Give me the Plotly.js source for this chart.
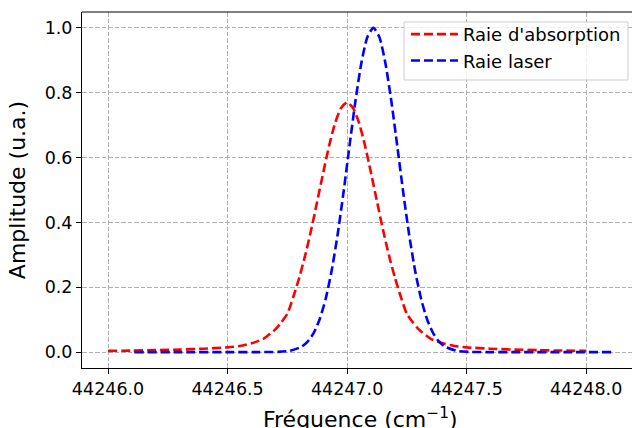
<!DOCTYPE html>
<html>
<head>
<meta charset="utf-8">
<script src="https://cdn.plot.ly/plotly-3.0.1.min.js"></script>
<style>
html, body { margin: 0; padding: 0; background: #fff; overflow: hidden; }
#chart { width: 632px; height: 428px; }
</style>
</head>
<body>
<div id="chart"></div>
<script>
// Raie d'absorption (red)
const absX = [44246.0, 44246.1, 44246.2, 44246.3, 44246.4, 44246.5, 44246.55, 44246.6, 44246.65, 44246.7,
  44246.725, 44246.75, 44246.775, 44246.8, 44246.825, 44246.85, 44246.875, 44246.9, 44246.925, 44246.95, 44246.975,
  44247.0,
  44247.025, 44247.05, 44247.075, 44247.1, 44247.125, 44247.15, 44247.175, 44247.2, 44247.225, 44247.25, 44247.275,
  44247.3, 44247.35, 44247.4, 44247.45, 44247.5, 44247.6, 44247.7, 44247.8, 44247.9, 44248.0];
const absY = [0.0039, 0.0048, 0.0060, 0.0078, 0.0105, 0.0147, 0.0188, 0.027, 0.041, 0.070,
  0.092, 0.118, 0.170, 0.230, 0.299, 0.378, 0.465, 0.553, 0.637, 0.707, 0.753,
  0.770,
  0.753, 0.707, 0.637, 0.553, 0.465, 0.378, 0.299, 0.230, 0.170, 0.118, 0.092,
  0.070, 0.041, 0.027, 0.0188, 0.0147, 0.0105, 0.0078, 0.0060, 0.0048, 0.0039];

// Raie laser (blue)
const laserX = [44246.11, 44246.31, 44246.51, 44246.61, 44246.71, 44246.76, 44246.81, 44246.835, 44246.86, 44246.885,
  44246.91, 44246.935, 44246.96, 44246.985, 44247.01, 44247.035, 44247.06, 44247.085,
  44247.11,
  44247.135, 44247.16, 44247.185, 44247.21, 44247.235, 44247.26, 44247.285, 44247.31, 44247.335,
  44247.36, 44247.385, 44247.41, 44247.46, 44247.51, 44247.61, 44247.71, 44247.91, 44248.11];
const laserY = [0.0, 0.0, 0.0, 0.0, 0.0007, 0.0039, 0.0169, 0.0324, 0.0588, 0.1007,
  0.163, 0.2494, 0.3604, 0.4923, 0.6354, 0.7748, 0.8928, 0.972,
  1.0,
  0.972, 0.8928, 0.7748, 0.6354, 0.4923, 0.3604, 0.2494, 0.163, 0.1007,
  0.0588, 0.0324, 0.0169, 0.0039, 0.0007, 0.0, 0.0, 0.0, 0.0];

const seriesNames = ["Raie d'absorption", "Raie laser"];
const xTicks = [44246.0, 44246.5, 44247.0, 44247.5, 44248.0];
const yTicks = [0.0, 0.2, 0.4, 0.6, 0.8, 1.0];
const xTitle = "Fréquence (cm<sup>−1</sup>)";
const yTitle = "Amplitude (u.a.)";

const font = "DejaVu Sans, sans-serif";
const dashPat = "9px,4px";

const traces = [
  { x: absX, y: absY, name: seriesNames[0], mode: "lines",
    line: { color: "#ff0000", width: 2.6, dash: dashPat, shape: "spline", smoothing: 0.6 } },
  { x: laserX, y: laserY, name: seriesNames[1], mode: "lines",
    line: { color: "#0000ff", width: 2.6, dash: dashPat, shape: "spline", smoothing: 0.6 } }
];

const gridStyle = { showgrid: true, gridcolor: "#b0b0b0", gridwidth: 1, griddash: "4.5px,2px" };

const layout = {
  width: 632, height: 428,
  margin: { l: 82, r: 0, t: 12, b: 60, pad: 0 },
  paper_bgcolor: "#ffffff", plot_bgcolor: "#ffffff",
  font: { family: font, color: "#000000", size: 17.5 },
  showlegend: true,
  legend: {
    x: 0.589, y: 0.989, xanchor: "left", yanchor: "top",
    bgcolor: "rgba(0,0,0,0)", borderwidth: 0,
    itemwidth: 47,
    font: { family: font, size: 18, color: "#000000" },
    tracegroupgap: 0
  },
  xaxis: Object.assign({
    range: [44245.891, 44248.192],
    tickmode: "array", tickvals: xTicks, ticktext: xTicks.map(v => v.toFixed(1)),
    ticks: "outside", ticklen: 5, tickwidth: 1, tickcolor: "#000000",
    showline: true, linecolor: "#000000", linewidth: 1, zeroline: false,
    tickfont: { family: font, size: 17.5, color: "#000000" }
  }, gridStyle),
  yaxis: Object.assign({
    range: [-0.049, 1.049],
    tickmode: "array", tickvals: yTicks, ticktext: yTicks.map(v => v.toFixed(1)),
    ticks: "outside", ticklen: 5, tickwidth: 1, tickcolor: "#000000",
    showline: true, linecolor: "#000000", linewidth: 1, zeroline: false,
    tickfont: { family: font, size: 17.5, color: "#000000" },
    title: { text: yTitle, font: { family: font, size: 22, color: "#000000" }, standoff: 12 }
  }, gridStyle),
  annotations: [
    { text: xTitle, xref: "paper", yref: "paper", x: 0.507, y: -0.1404,
      xanchor: "center", yanchor: "middle", showarrow: false,
      font: { family: font, size: 22, color: "#000000" } }
  ],
  shapes: [
    { type: "line", xref: "paper", yref: "paper", x0: 0, x1: 1, y0: 1, y1: 1,
      line: { color: "#000000", width: 1 } },
    { type: "rect", xref: "paper", yref: "paper", x0: 0.5855, x1: 0.9927, y0: 0.809, y1: 0.9719,
      layer: "above", fillcolor: "rgba(255,255,255,0.8)", line: { color: "#cccccc", width: 1 } }
  ]
};

Plotly.newPlot("chart", traces, layout, { staticPlot: true, displayModeBar: false });
</script>
</body>
</html>
